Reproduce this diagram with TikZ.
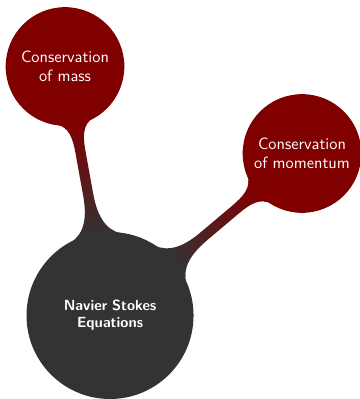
\documentclass[tikz,border=0pt]{standalone}
\usepackage{fontspec}
\usetikzlibrary{mindmap}
\begin{document}
\begin{tikzpicture}[mindmap,
  rootstyle/.style={concept, concept color=black!80, minimum size=3.55cm, text width=2.6cm, align=center, font=\sffamily\bfseries\fontsize{9}{10.3}\selectfont, text=white},
  childstyle/.style={concept, concept color=red!50!black, minimum size=2.51cm, text width=2.15cm, align=center, font=\sffamily\fontsize{10}{11.3}\selectfont, text=white}]
\useasboundingbox (0,0) rectangle (7.742,-8.581);
\node[rootstyle] (root) at (2.366,-6.785) {Navier Stokes Equations};
\node[childstyle] (mass) at (1.398,-1.430) {Conservation of mass};
\node[childstyle] (mom) at (6.495,-3.301) {Conservation of momentum};
\path (root) to[circle connection bar switch color=from (black!80) to (red!50!black)] (mass);
\path (root) to[circle connection bar switch color=from (black!80) to (red!50!black)] (mom);
\end{tikzpicture}
\end{document}
